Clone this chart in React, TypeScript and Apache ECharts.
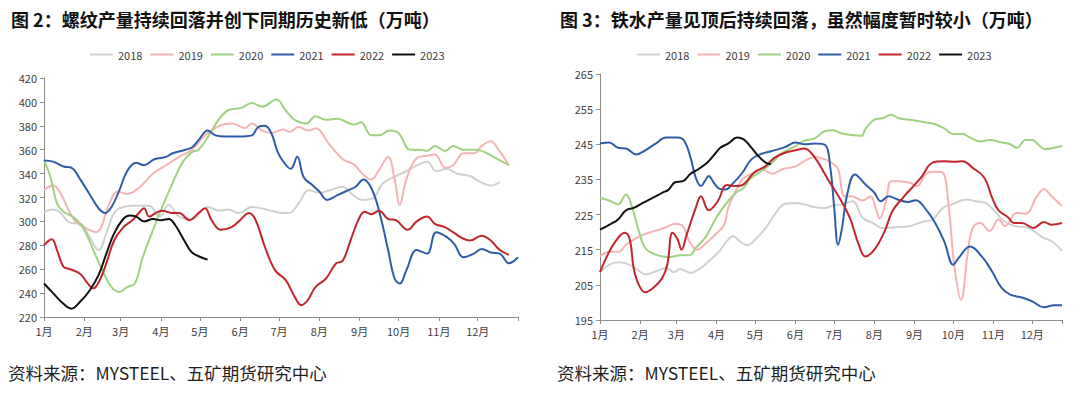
import React, { useEffect, useRef } from "react";
import * as echarts from "echarts";

const monthStarts = [0, 31, 59, 90, 120, 151, 181, 212, 243, 273, 304, 334];
const monthLabels = ["1月", "2月", "3月", "4月", "5月", "6月", "7月", "8月", "9月", "10月", "11月", "12月"];
const years = ["2018", "2019", "2020", "2021", "2022", "2023"];
const colors = ["#d0d0d0", "#f4b3b5", "#9fd27f", "#2f5ca8", "#c0262c", "#111111"];

const leftTitle = "图 2：螺纹产量持续回落并创下同期历史新低（万吨）";
const rightTitle = "图 3：铁水产量见顶后持续回落，虽然幅度暂时较小（万吨）";
const sourceText = "资料来源：MYSTEEL、五矿期货研究中心";

// Rebar output [day of year, 10k t]
const rebar2018: [number, number][] = [[0,308],[7,310],[12,308],[20,299],[28,298],[35,287],[42,276],[48,290],[54,307],[61,312],[71,313],[81,313],[89,304],[96,314],[104,304],[114,302],[126,312],[135,309],[142,310],[150,307],[160,312],[175,309],[184,307],[189,307],[196,315],[204,326],[212,324],[220,326],[230,329],[238,322],[245,318],[253,319],[261,332],[271,338],[279,342],[289,348],[295,350],[302,342],[310,344],[318,340],[328,338],[336,333],[344,330],[351,333]];
const rebar2019: [number, number][] = [[0,326],[7,330],[12,325],[20,307],[25,299],[33,294],[40,291],[44,295],[50,314],[57,325],[64,323],[73,328],[84,340],[94,347],[104,354],[114,360],[124,372],[135,380],[145,382],[155,378],[160,382],[168,376],[175,374],[184,377],[189,375],[196,379],[204,376],[209,378],[220,364],[230,352],[238,348],[246,339],[252,335],[258,343],[265,354],[270,335],[274,314],[279,335],[287,353],[295,355],[301,356],[309,345],[315,347],[323,357],[331,357],[337,363],[344,367],[350,360],[358,347]];
const rebar2020: [number, number][] = [[0,351],[5,337],[10,315],[15,308],[22,304],[30,295],[38,276],[45,259],[52,245],[58,241],[64,245],[70,248],[76,270],[84,293],[91,312],[99,332],[107,350],[114,358],[119,360],[127,372],[135,386],[142,393],[152,395],[160,399],[168,396],[179,402],[186,393],[193,385],[202,382],[209,388],[217,385],[226,386],[233,383],[239,381],[244,383],[252,372],[258,372],[266,376],[273,374],[282,360],[289,360],[295,359],[301,363],[309,359],[315,363],[323,360],[331,360],[337,359],[346,354],[358,347]];
const rebar2021: [number, number][] = [[0,351],[7,350],[15,346],[21,345],[28,335],[35,323],[42,311],[47,307],[52,312],[58,326],[64,342],[71,349],[77,347],[85,352],[94,354],[99,357],[109,360],[114,362],[119,368],[126,376],[132,372],[140,371],[150,371],[160,372],[165,379],[170,380],[175,374],[180,358],[185,349],[190,344],[195,354],[200,337],[207,330],[212,325],[218,318],[226,322],[234,326],[240,329],[246,335],[252,328],[258,309],[265,276],[270,252],[274,248],[279,259],[287,276],[295,273],[302,291],[310,287],[316,281],[323,270],[331,273],[337,277],[344,274],[351,273],[358,265],[365,270]];
const rebar2022: [number, number][] = [[0,280],[6,285],[10,276],[15,262],[20,260],[28,256],[33,249],[38,244],[43,251],[48,265],[54,284],[61,295],[68,301],[73,307],[77,311],[81,304],[86,307],[91,309],[99,307],[104,307],[112,301],[119,307],[124,311],[129,301],[136,293],[144,295],[150,300],[158,307],[163,301],[170,279],[178,259],[186,251],[193,237],[198,230],[203,234],[209,245],[217,252],[225,265],[230,267],[236,284],[242,301],[247,308],[252,306],[258,309],[265,302],[271,301],[280,293],[287,300],[295,304],[301,298],[309,295],[315,291],[322,286],[328,284],[337,288],[344,284],[351,276],[358,272]];
const rebar2023: [number, number][] = [[0,248],[7,240],[15,231],[21,227],[28,233],[35,242],[42,255],[48,273],[54,290],[61,302],[66,305],[71,304],[77,300],[84,302],[90,301],[96,302],[101,297],[108,284],[114,274],[121,270],[126,268]];

// Hot metal output [day of year, 10k t]
const iron2018: [number, number][] = [[0,208.4],[7,210.7],[15,211.4],[23,210.7],[29,209.3],[35,208],[43,208.8],[51,209.8],[57,208.6],[62,209.5],[70,208.4],[76,209.3],[84,211.7],[92,214.5],[98,217.4],[103,218.8],[108,217.4],[114,216.3],[120,217.9],[128,221.2],[135,225],[143,228.1],[151,228.3],[158,227.9],[166,227.1],[174,226.9],[181,227.7],[187,227.9],[195,228.8],[203,224.1],[211,222.6],[218,221.2],[229,221.4],[239,221.7],[249,222.9],[257,223.6],[265,226.9],[272,227.9],[283,229.3],[290,228.8],[298,228.3],[306,225.5],[313,222.9],[321,221.7],[331,221.2],[342,218.5],[349,217.4],[357,214.7]];
const iron2019: [number, number][] = [[0,213.1],[7,214.4],[14,214.4],[20,216.4],[28,218.3],[35,219.5],[43,220.4],[51,221.4],[58,222.4],[64,221.7],[69,217.4],[75,215],[82,216.9],[89,219.3],[96,222.1],[99,226.9],[105,231.7],[110,235],[117,236.6],[125,237.9],[133,236.6],[141,237.9],[151,238.7],[158,240.2],[166,241.4],[174,240.7],[180,239.5],[184,237.9],[189,230.2],[194,230.2],[203,229],[209,230.2],[213,226.9],[216,223.9],[221,228.8],[225,234.5],[231,234.5],[240,234],[245,233.1],[252,236.6],[259,237.2],[265,236.9],[269,228.8],[274,209.8],[279,200.7],[284,213.6],[288,221.2],[294,222.6],[301,220.3],[308,223.6],[313,221.7],[322,225.5],[329,225.2],[337,229.8],[343,232.2],[349,230.2],[357,227.4]];
const iron2020: [number, number][] = [[0,229.8],[7,229],[14,227.9],[20,230.7],[25,226.9],[30,220.3],[35,215.5],[43,213.6],[53,212.9],[62,213.4],[69,213.4],[74,215.5],[82,218.8],[89,223.6],[97,227.9],[105,231.2],[111,232.6],[117,235.5],[125,237.4],[133,239.8],[141,242.6],[151,244.5],[158,246],[166,246.7],[174,248.8],[180,249],[185,248.3],[193,247.7],[202,247.4],[205,249.3],[212,252],[218,252.4],[225,253.4],[231,252.4],[241,251.9],[252,251.2],[259,250.7],[266,249.5],[273,247.9],[280,248],[286,246.9],[294,245.8],[301,246.2],[311,245.5],[317,245],[322,244],[329,246.2],[334,246.2],[339,244.8],[344,243.6],[351,244],[357,244.5]];
const iron2021: [number, number][] = [[0,245.2],[7,245.5],[14,244],[20,243.8],[28,242.1],[35,243.3],[43,245.2],[51,246.9],[60,246.9],[65,246],[70,241.2],[74,235.5],[78,233.1],[81,234.5],[84,236],[88,234],[92,232.4],[97,232.1],[102,233.6],[110,236.9],[117,240.7],[125,242.3],[133,243.1],[143,244.2],[151,245.5],[158,245],[166,245.2],[174,244.8],[178,238.3],[181,226.9],[184,216.4],[187,221.2],[191,230.7],[197,236.4],[205,233.6],[212,231.2],[217,228.8],[223,230.2],[230,229.3],[238,228.6],[244,229.1],[252,226.4],[259,222.6],[266,217.4],[273,210.7],[277,212.6],[286,215.9],[295,213.1],[303,208.8],[310,204.3],[317,202.2],[326,201.4],[334,200.3],[343,198.6],[351,199.2],[357,199.2]];
const iron2022: [number, number][] = [[0,208.6],[6,213.6],[12,217.4],[19,219.8],[23,217.9],[26,209.8],[30,205],[35,202.9],[41,204.1],[48,206.9],[52,210.7],[56,219.8],[60,217.9],[63,215],[67,219.3],[74,226.9],[78,230.2],[84,226.2],[91,228.8],[98,233.4],[105,233.1],[111,233.6],[119,236.9],[128,238.8],[135,241.2],[143,242.6],[151,243.3],[158,243.8],[166,241.2],[174,236.4],[177,234.5],[185,229.8],[193,224.1],[200,216.4],[205,213.1],[212,215],[220,220.3],[226,226],[235,230.2],[241,232.6],[248,235.5],[257,239.8],[266,240.2],[274,240],[280,240.2],[288,238.3],[297,235.5],[303,229.8],[308,226.2],[315,224.3],[320,222.6],[326,222.6],[335,221.2],[343,222.9],[349,222.1],[357,222.6]];
const iron2023: [number, number][] = [[0,220.7],[7,222.1],[14,223.6],[20,226.2],[26,226.9],[33,228.3],[41,229.8],[48,231.2],[53,232.1],[58,234.2],[64,234.5],[70,236.6],[76,237.9],[83,239.8],[88,241.9],[93,244],[99,245.2],[106,246.9],[111,246.4],[116,244.5],[123,241.4],[128,239.8],[132,239.3]];

const rebarSeries = [rebar2018, rebar2019, rebar2020, rebar2021, rebar2022, rebar2023];
const ironSeries = [iron2018, iron2019, iron2020, iron2021, iron2022, iron2023];

const labelColor = "#404040";
const axisColor = "#8c8c8c";
const fontFamily = "'Noto Sans CJK SC', 'Noto Sans', sans-serif";

function makeXAxis(gridIndex: number, max: number) {
  return {
    type: "value",
    gridIndex,
    min: 0,
    max,
    axisLine: { lineStyle: { color: axisColor, width: 1 } },
    axisTick: {
      show: true,
      length: 4,
      lineStyle: { color: axisColor },
      customValues: [...monthStarts, max],
    },
    axisLabel: {
      customValues: monthStarts,
      color: labelColor,
      fontSize: 11,
      fontFamily,
      margin: 8,
      formatter: (v: number) => {
        const i = monthStarts.indexOf(Math.round(v));
        return i >= 0 ? monthLabels[i] : "";
      },
    },
    splitLine: { show: false },
  };
}

function makeYAxis(gridIndex: number, min: number, max: number, interval: number) {
  return {
    type: "value",
    gridIndex,
    min,
    max,
    interval,
    axisLine: { show: true, lineStyle: { color: axisColor, width: 1 } },
    axisTick: { show: true, length: 4, lineStyle: { color: axisColor } },
    axisLabel: { color: labelColor, fontSize: 11, fontFamily, margin: 7 },
    splitLine: { show: false },
  };
}

export default function App() {
  const ref = useRef<HTMLDivElement>(null);
  useEffect(() => {
    if (!ref.current) return;
    const chart = echarts.init(ref.current, null, { renderer: "svg" });
    const series: any[] = [];
    const addSeries = (d: [number, number][], i: number, axis: number) => {
      series.push({
        name: years[i],
        type: "line",
        xAxisIndex: axis,
        yAxisIndex: axis,
        data: d,
        smooth: 0.4,
        symbol: "none",
        lineStyle: { color: colors[i], width: 2 },
        itemStyle: { color: colors[i] },
      });
    };
    rebarSeries.forEach((d, i) => addSeries(d, i, 0));
    ironSeries.forEach((d, i) => addSeries(d, i, 1));
    const legendBase = {
      top: 49,
      padding: 0,
      icon: "rect",
      itemWidth: 23,
      itemHeight: 2,
      itemGap: 8,
      data: years,
      textStyle: { color: labelColor, fontSize: 11, fontFamily },
      selectedMode: false,
    };
    chart.setOption({
      animation: false,
      backgroundColor: "#ffffff",
      title: [
        {
          text: leftTitle,
          left: 6,
          top: 5,
          textStyle: { fontSize: 18, fontWeight: "bold", color: "#111111", fontFamily },
        },
        {
          text: rightTitle,
          left: 555,
          top: 5,
          textStyle: { fontSize: 18, fontWeight: "bold", color: "#111111", fontFamily },
        },
      ],
      legend: [
        { ...legendBase, left: 90 },
        { ...legendBase, left: 637 },
      ],
      grid: [
        { left: 44, top: 78, width: 474, height: 239 },
        { left: 600, top: 74, width: 462, height: 246 },
      ],
      xAxis: [makeXAxis(0, 365), makeXAxis(1, 357)],
      yAxis: [makeYAxis(0, 220, 420, 20), makeYAxis(1, 195, 265, 10)],
      graphic: [
        {
          type: "text",
          left: 8,
          top: 364,
          style: { text: sourceText, fontSize: 17.5, fill: "#1f1f1f", fontFamily },
        },
        {
          type: "text",
          left: 557,
          top: 364,
          style: { text: sourceText, fontSize: 17.5, fill: "#1f1f1f", fontFamily },
        },
      ],
      series,
    });
    return () => chart.dispose();
  }, []);
  return (
    <div
      ref={ref}
      style={{ position: "absolute", left: 0, top: 0, width: 1080, height: 398, background: "#fff" }}
    />
  );
}
